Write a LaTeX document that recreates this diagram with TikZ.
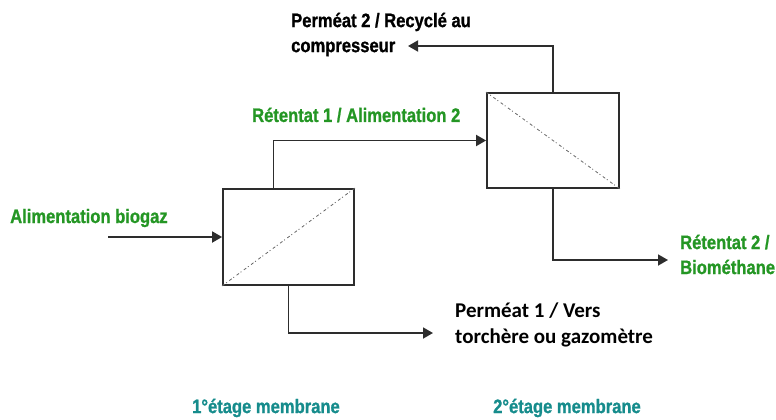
\documentclass[tikz,border=0pt]{standalone}
\usepackage{xcolor}
\usepackage{fontspec}
\usepackage{tikz}
\usetikzlibrary{arrows.meta}

\newfontfamily\narrowfont[FakeStretch=0.85,BoldFeatures={FakeBold=1}]{Liberation Sans}
\newfontfamily\calfont{Carlito}
\definecolor{flowgreen}{RGB}{36,150,36}
\definecolor{stageteal}{RGB}{22,140,140}
\definecolor{linegray}{RGB}{45,45,45}

\begin{document}
\begin{tikzpicture}[x=1pt,y=-1pt,>={Triangle[length=10pt,width=11pt]},
  module/.style={draw=linegray,line width=1.8pt,inner sep=0pt},
  flow/.style={draw=linegray,line width=1.8pt,->},
  diag/.style={gray!80!black,line width=0.8pt,dash pattern=on 3pt off 2pt on 1pt off 3pt},
  lbl/.style={anchor=west,inner sep=0pt,align=left,font=\narrowfont\bfseries\fontsize{19.5}{25}\selectfont},
  calbl/.style={anchor=west,inner sep=0pt,align=left,font=\calfont\bfseries\fontsize{21}{26}\selectfont}]
\path[use as bounding box] (0,0) rectangle (776,420);

% membrane modules
\node[module,minimum width=131pt,minimum height=96pt] (m1) at (288.5,237) {};
\node[module,minimum width=132pt,minimum height=95pt] (m2) at (553,140.5) {};
\draw[diag] (m1.south west) -- (m1.north east);
\draw[diag] (m2.north west) -- (m2.south east);

% labels
\node[lbl,text=flowgreen] (feedlbl) at (10,218) {Alimentation biogaz};
\node[lbl,text=flowgreen] (ret1lbl) at (252,115) {Rétentat 1 / Alimentation 2};
\node[lbl] (perm2lbl) at (291,34.5) {Perméat 2 / Recyclé au\\compresseur};
\node[lbl,text=flowgreen] (ret2lbl) at (680,254.5) {Rétentat 2 /\\Biométhane};
\node[calbl] (perm1lbl) at (455,325) {Perméat 1 / Vers\\torchère ou gazomètre};
\node[lbl,text=stageteal] (stage1) at (192,408) {1°étage membrane};
\node[lbl,text=stageteal] (stage2) at (493,408) {2°étage membrane};

% free ends
\coordinate (feed) at (108,237);
\coordinate (perm1end) at (433,333);
\coordinate (perm2end) at (408,46);
\coordinate (ret2end) at (668,260);

% flows
\draw[flow] (feed) -- (m1.west);
\draw[flow] ([xshift=-15pt]m1.north) |- (m2.west);
\draw[flow] (m1.south) |- (perm1end);
\draw[flow] (m2.north) |- (perm2end);
\draw[flow] (m2.south) |- (ret2end);
\end{tikzpicture}
\end{document}
